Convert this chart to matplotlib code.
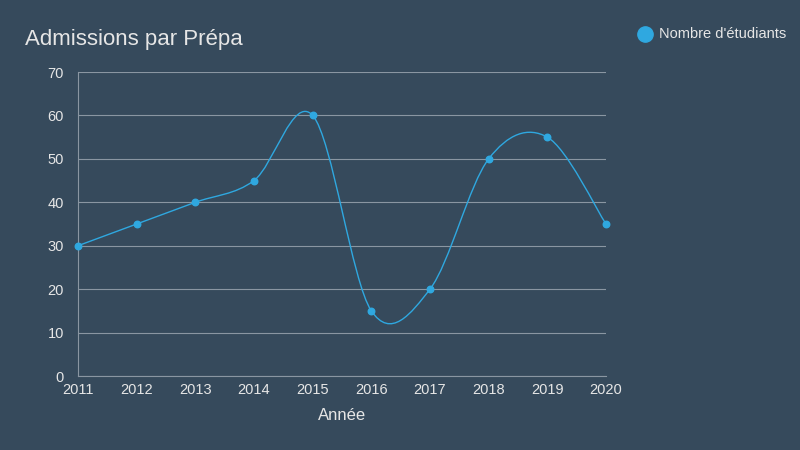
import matplotlib
matplotlib.use("Agg")
import matplotlib.pyplot as plt
from matplotlib.path import Path
from matplotlib.patches import PathPatch
from matplotlib.lines import Line2D

plt.rcParams['font.family'] = ['Liberation Sans', 'DejaVu Sans']

years = [2011, 2012, 2013, 2014, 2015, 2016, 2017, 2018, 2019, 2020]
students = [30, 35, 40, 45, 60, 15, 20, 50, 55, 35]

bg = '#364a5c'
line_col = '#2fa8e0'
text_col = '#e6e6e6'

fig = plt.figure(figsize=(8, 4.5), dpi=100, facecolor=bg)
ax = fig.add_axes([78/800, 1-376/450, (606-78)/800, (376-72)/450], facecolor=bg)

# courbe lissée (Catmull-Rom -> Bézier)
t = 0.5
verts = [(years[0], students[0])]
codes = [Path.MOVETO]
n = len(years)
for i in range(n-1):
    p0 = (years[max(i-1, 0)], students[max(i-1, 0)])
    p1 = (years[i], students[i])
    p2 = (years[i+1], students[i+1])
    p3 = (years[min(i+2, n-1)], students[min(i+2, n-1)])
    c1 = (p1[0] + (p2[0]-p0[0])*t/3, p1[1] + (p2[1]-p0[1])*t/3)
    c2 = (p2[0] - (p3[0]-p1[0])*t/3, p2[1] - (p3[1]-p1[1])*t/3)
    verts += [c1, c2, p2]
    codes += [Path.CURVE4]*3
ax.add_patch(PathPatch(Path(verts, codes), fill=False, edgecolor=line_col, lw=1))
ax.scatter(years, students, s=22, color=line_col, zorder=3, clip_on=False)

ax.set_xlim(2011, 2020)
ax.set_ylim(0, 70)
ax.set_xticks(years)
ax.set_yticks(range(0, 71, 10))
ax.grid(axis='y', color='#8a96a2', lw=0.8)
ax.set_axisbelow(True)
for s in ['top', 'right']:
    ax.spines[s].set_visible(False)
for s in ['left', 'bottom']:
    ax.spines[s].set_color('#8a96a2')
ax.tick_params(colors=text_col, labelsize=10.5, length=0)
ax.tick_params(axis='y', pad=10)
ax.tick_params(axis='x', pad=5)
ax.set_xlabel('Année', color=text_col, fontsize=12, labelpad=8)

fig.text(25/800, 1-40/450, 'Admissions par Prépa', color=text_col, fontsize=16, va='center')
fig.add_artist(Line2D([645/800], [1-34/450], marker='o', markersize=11, color=line_col,
                      transform=fig.transFigure))
fig.text(659/800, 1-34/450, "Nombre d'étudiants", color=text_col, fontsize=10.5, va='center')

fig.savefig('out.png', facecolor=bg)
